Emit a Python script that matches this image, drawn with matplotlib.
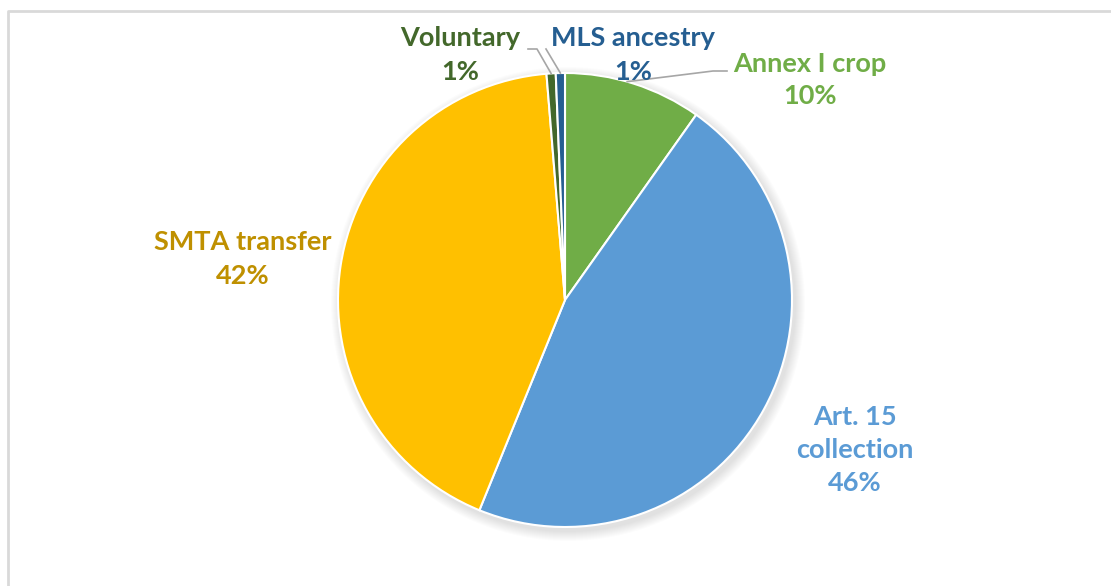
import numpy as np
import matplotlib
matplotlib.use('Agg')
import matplotlib.pyplot as plt
from matplotlib.patches import Circle

# data
categories = ['Annex I crop', 'Art. 15 collection', 'SMTA transfer', 'Voluntary', 'MLS ancestry']
shares = [9.8, 46.3, 42.5, 0.65, 0.65]
pct_labels = ['10%', '46%', '42%', '1%', '1%']
label_text = ['Annex I crop', 'Art. 15\ncollection', 'SMTA transfer', 'Voluntary', 'MLS ancestry']

colors = ['#70AD47', '#5B9BD5', '#FFC000', '#43682B', '#255E91']
text_colors = ['#70AD47', '#5B9BD5', '#BF9000', '#43682B', '#255E91']

W, H = 1111, 586
fig = plt.figure(figsize=(W / 100, H / 100), dpi=100)
ax = fig.add_axes([0, 0, 1, 1])

# light frame (only top and left visible in the crop)
ax.plot([8, 8, W], [0, H - 11, H - 11], color='#D9D9D9', lw=2, solid_capstyle='butt')

cx, cy, r = 565, H - 300, 227

# soft shadow
for i in range(10):
    ax.add_patch(Circle((cx + 3, cy - 4), r + 10 - i, color='black', alpha=0.012, lw=0))

wedges, _ = ax.pie(shares, colors=colors, startangle=90, counterclock=False,
                   center=(cx, cy), radius=r, frame=True,
                   wedgeprops=dict(edgecolor='white', linewidth=1.5))
ax.set_xlim(0, W)
ax.set_ylim(0, H)
ax.set_aspect('equal')
ax.axis('off')

font = 'Lato'
# label centre positions (pixels, y from top)
label_pos = [(810, 80), (855, 450), (243, 259), (460, 55), (633, 55)]
for i in range(len(categories)):
    x, y = label_pos[i]
    ax.text(x, H - y, label_text[i] + '\n' + pct_labels[i], ha='center', va='center',
            fontsize=19.5, fontweight='bold', color=text_colors[i], family=font,
            linespacing=1.45)


def edge_point(w, frac=1.0):
    ang = np.deg2rad((w.theta1 + w.theta2) / 2)
    return cx + r * frac * np.cos(ang), cy + r * frac * np.sin(ang)


lc = '#A6A6A6'
# leader lines
px, py = edge_point(wedges[3])
ax.plot([528, 537, px], [H - 49, H - 49, py], color=lc, lw=1.2)
px, py = edge_point(wedges[4])
ax.plot([546, px], [H - 49, py], color=lc, lw=1.2)
ang = np.deg2rad(wedges[0].theta1 + 0.55 * (wedges[0].theta2 - wedges[0].theta1))
ax.plot([727, 713, cx + r * np.cos(ang)], [H - 71, H - 71, cy + r * np.sin(ang)], color=lc, lw=1.2)

fig.savefig('out.png', dpi=100, facecolor='white')
